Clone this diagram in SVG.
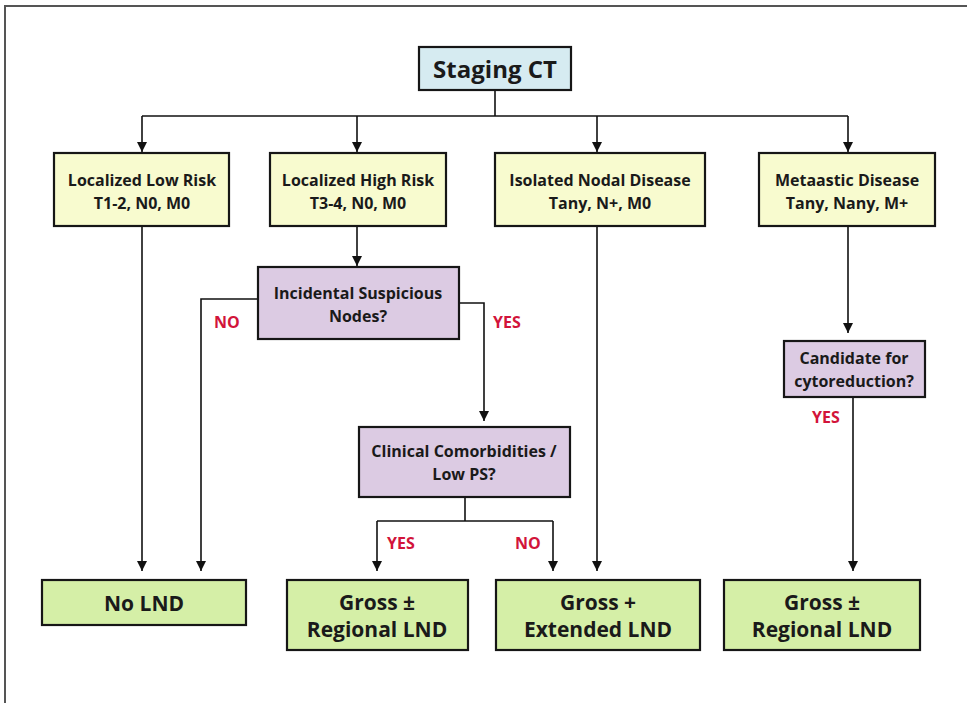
<svg xmlns="http://www.w3.org/2000/svg" width="967" height="703" viewBox="0 0 967 703">
<style>
.box{stroke:#161616;stroke-width:2.2}
.blue{fill:#d6ebf1}
.yel{fill:#f8fbcf}
.pur{fill:#dccbe3}
.grn{fill:#d5efa7}
.t{font-family:"Open Sans","Liberation Sans",sans-serif;font-weight:bold;fill:#1a1a1a;text-anchor:middle}
.s{font-size:16px}
.b{font-size:21px}
.lbl{font-family:"Open Sans","Liberation Sans",sans-serif;font-weight:bold;font-size:16px;fill:#d2143a}
.c{fill:none;stroke:#111;stroke-width:1.6}
</style>
<defs>
<marker id="ah" viewBox="0 0 10 10" refX="10" refY="5" markerWidth="10" markerHeight="10" markerUnits="userSpaceOnUse" orient="auto">
<path d="M0,0 L10,5 L0,10 Z" fill="#111"/>
</marker>
</defs>
<rect width="967" height="703" fill="#fff"/>
<path d="M5,703 V6 H967" fill="none" stroke="#555" stroke-width="2"/>
<g id="connectors">
<path class="c" d="M495,90 V116"/>
<path class="c" d="M142,116 H848"/>
<path class="c" d="M142,116 V152" marker-end="url(#ah)"/>
<path class="c" d="M357,116 V152" marker-end="url(#ah)"/>
<path class="c" d="M597,116 V152" marker-end="url(#ah)"/>
<path class="c" d="M848,116 V152" marker-end="url(#ah)"/>
<path class="c" d="M142,226 V571" marker-end="url(#ah)"/>
<path class="c" d="M357,226 V266" marker-end="url(#ah)"/>
<path class="c" d="M597,226 V571" marker-end="url(#ah)"/>
<path class="c" d="M848,226 V333" marker-end="url(#ah)"/>
<path class="c" d="M258,299 H201 V571" marker-end="url(#ah)"/>
<path class="c" d="M459,303 H484 V421" marker-end="url(#ah)"/>
<path class="c" d="M465,497 V521"/>
<path class="c" d="M377,521 H553"/>
<path class="c" d="M377,521 V571" marker-end="url(#ah)"/>
<path class="c" d="M553,521 V571" marker-end="url(#ah)"/>
<path class="c" d="M853,397 V571" marker-end="url(#ah)"/>
<text class="lbl" x="214" y="328">NO</text>
<text class="lbl" x="493" y="328">YES</text>
<text class="lbl" x="387" y="549">YES</text>
<text class="lbl" x="515" y="549">NO</text>
<text class="lbl" x="812" y="423">YES</text>
</g>
<g id="staging">
<rect class="box blue" x="419" y="47" width="152" height="43"/>
<text class="t" x="495" y="78" font-size="24">Staging CT</text>
</g>
<g id="low">
<rect class="box yel" x="54" y="153" width="175" height="73"/>
<text class="t s" x="142" y="186">Localized Low Risk</text>
<text class="t s" x="142" y="209">T1-2, N0, M0</text>
</g>
<g id="high">
<rect class="box yel" x="270" y="153" width="176" height="73"/>
<text class="t s" x="358" y="186">Localized High Risk</text>
<text class="t s" x="358" y="209">T3-4, N0, M0</text>
</g>
<g id="nodal">
<rect class="box yel" x="495" y="153" width="210" height="73"/>
<text class="t s" x="600" y="186">Isolated Nodal Disease</text>
<text class="t s" x="600" y="209">Tany, N+, M0</text>
</g>
<g id="meta">
<rect class="box yel" x="759" y="153" width="176" height="73"/>
<text class="t s" x="847" y="186">Metaastic Disease</text>
<text class="t s" x="847" y="209">Tany, Nany, M+</text>
</g>
<g id="incidental">
<rect class="box pur" x="258" y="267" width="201" height="72"/>
<text class="t s" x="358" y="299">Incidental Suspicious</text>
<text class="t s" x="358" y="322">Nodes?</text>
</g>
<g id="clinical">
<rect class="box pur" x="359" y="427" width="211" height="70"/>
<text class="t s" x="464" y="457">Clinical Comorbidities /</text>
<text class="t s" x="464" y="480">Low PS?</text>
</g>
<g id="candidate">
<rect class="box pur" x="784" y="341" width="141" height="56"/>
<text class="t s" x="854" y="364">Candidate for</text>
<text class="t s" x="854" y="387">cytoreduction?</text>
</g>
<g id="nolnd">
<rect class="box grn" x="42" y="580" width="204" height="45"/>
<text class="t b" x="144" y="611">No LND</text>
</g>
<g id="regional1">
<rect class="box grn" x="287" y="580" width="181" height="70"/>
<text class="t b" x="377" y="610">Gross ±</text>
<text class="t b" x="377" y="637">Regional LND</text>
</g>
<g id="extended">
<rect class="box grn" x="496" y="580" width="204" height="70"/>
<text class="t b" x="598" y="610">Gross +</text>
<text class="t b" x="598" y="637">Extended LND</text>
</g>
<g id="regional2">
<rect class="box grn" x="724" y="580" width="196" height="70"/>
<text class="t b" x="822" y="610">Gross ±</text>
<text class="t b" x="822" y="637">Regional LND</text>
</g>
</svg>
